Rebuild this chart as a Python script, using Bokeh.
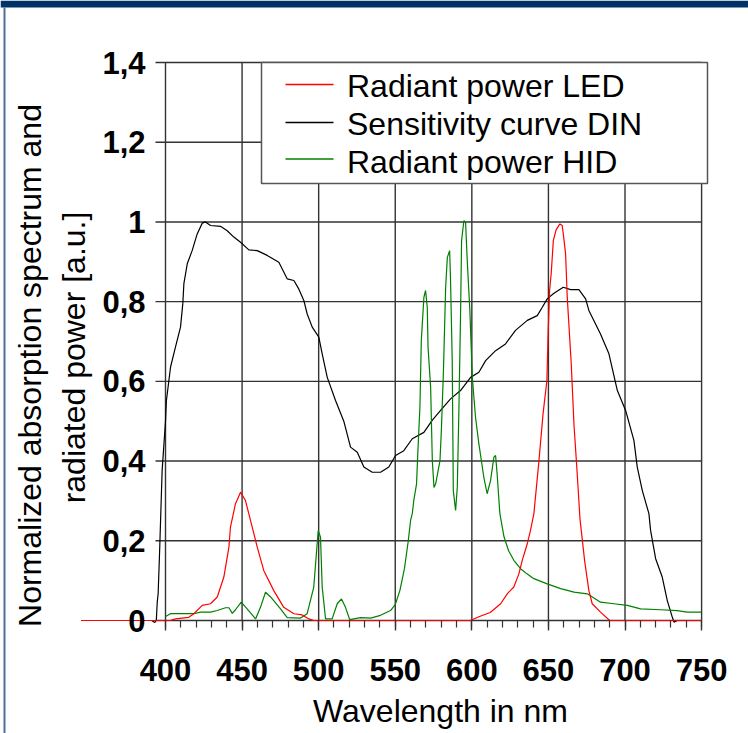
import math
from bokeh.plotting import figure
from bokeh.models import (Range1d, SingleIntervalTicker, FixedTicker, Legend, LegendItem,
                          ColumnDataSource)
from bokeh.core.properties import value
from bokeh.embed import file_html
from bokeh.resources import INLINE

# ---------------- data ----------------
din_nm = [345, 391, 393, 394, 394.6, 395.2, 396.1, 397.8, 400, 400.6, 403.3, 406.5, 409.8,
          411.3, 412, 414.2, 417.4, 420.7, 424, 426.1, 429.4, 435.9, 440.3, 444.6, 449,
          454.4, 459.9, 466.4, 474, 479.5, 483.8, 487, 490.3, 492.5, 495.8, 500.1, 502.3,
          505.6, 511, 516.4, 520.8, 525.2, 529.5, 535, 540.4, 545.8, 550.2, 555.6, 561.1,
          568.7, 574.1, 579.6, 586.1, 592.6, 599.2, 604.6, 609, 615.5, 622, 628.5, 636.2,
          642.7, 646, 649.2, 653.6, 659.7, 664.5, 669.9, 674.3, 676.4, 684, 689.5, 695,
          700.4, 705.8, 708, 711.3, 715.6, 716.7, 720, 724.3, 727.6, 730.9, 732, 734, 750]
din_val = [0, 0, -0.005, 0.0, 0.046, 0.067, 0.167, 0.376, 0.50, 0.552, 0.636, 0.686, 0.736,
           0.795, 0.845, 0.895, 0.928, 0.970, 0.997, 1.0, 0.991, 0.989, 0.978, 0.962, 0.949,
           0.930, 0.928, 0.916, 0.899, 0.857, 0.853, 0.832, 0.803, 0.769, 0.736, 0.711, 0.669,
           0.610, 0.552, 0.500, 0.435, 0.422, 0.385, 0.372, 0.372, 0.385, 0.414, 0.426, 0.456,
           0.472, 0.502, 0.527, 0.556, 0.577, 0.610, 0.623, 0.652, 0.677, 0.694, 0.728, 0.753,
           0.765, 0.786, 0.807, 0.821, 0.836, 0.830, 0.830, 0.807, 0.778, 0.719, 0.669, 0.577,
           0.527, 0.452, 0.385, 0.326, 0.268, 0.226, 0.155, 0.109, 0.050, 0.008, -0.004, 0, 0]

led_nm = [345, 403, 406.5, 415.2, 418.5, 424, 429.4, 433.8, 438.1, 441.4, 442.4, 445.7, 449,
          452.2, 455.5, 459.9, 464.2, 470.7, 477.2, 483.8, 489.3, 493.6, 496.8, 599, 605, 612,
          618.8, 623.1, 627.4, 630.7, 632.9, 636, 638.3, 640.5, 643.8, 646.5, 649, 649.8,
          650.8, 651.8, 653.2, 655, 657.5, 659, 659.7, 661.2, 662.3, 664.9, 666.7, 668.6,
          670.6, 673.6, 676.4, 678.6, 684, 689.5, 690, 750]
led_val = [0, 0, 0.004, 0.008, 0.017, 0.038, 0.042, 0.059, 0.109, 0.184, 0.234, 0.293, 0.322,
           0.301, 0.251, 0.184, 0.125, 0.075, 0.033, 0.017, 0.014, 0.004, 0, 0, 0.010, 0.020,
           0.042, 0.067, 0.084, 0.117, 0.151, 0.190, 0.226, 0.268, 0.400, 0.519, 0.602, 0.719,
           0.830, 0.870, 0.953, 0.980, 0.995, 0.991, 0.970, 0.920, 0.810, 0.644, 0.490, 0.380,
           0.255, 0.151, 0.075, 0.042, 0.021, 0.002, 0, 0]

hid_nm = [400, 403.3, 418.5, 422.9, 429.4, 433.8, 439.2, 441.4, 443.6, 445.7, 449.4, 453.3,
          458.8, 462, 465.3, 468.6, 475.1, 479.5, 488.2, 492.5, 496.8, 499.7, 501.2, 502.3,
          504.5, 508.8, 512.1, 514.9, 517.5, 520.3, 527.3, 533.9, 540.4, 546.9, 550, 553, 556,
          558.5, 560, 561.1, 562.1, 563.9, 564.7, 566.1, 567, 568.7, 569.8, 570.9, 571.4,
          573.1, 574.2, 575.3, 576.4, 579.2, 580.1, 581.4, 582.9, 584, 585.5, 586.1, 587.2,
          587.9, 589.4, 590.5, 591.5, 592.6, 593.3, 594.8, 595.9, 597, 598.7, 600.3, 602.4,
          604.6, 607.8, 610, 612.2, 614.4, 615.5, 616.5, 618.3, 621, 624, 627.4, 631.8, 636,
          640.5, 649.2, 658, 666.7, 675.4, 684, 692.7, 701.5, 710.2, 723.2, 734.1, 740.6, 749.7]
hid_val = [0.010, 0.017, 0.017, 0.021, 0.021, 0.025, 0.032, 0.032, 0.018, 0.027, 0.046, 0.029,
           0.004, 0.033, 0.071, 0.059, 0.029, 0.007, 0.006, 0.017, 0.084, 0.226, 0.209, 0.084,
           0.004, 0.004, 0.042, 0.054, 0.033, 0.002, 0.007, 0.006, 0.013, 0.025, 0.040, 0.075,
           0.130, 0.200, 0.251, 0.268, 0.301, 0.343, 0.418, 0.535, 0.702, 0.811, 0.828, 0.786,
           0.686, 0.585, 0.401, 0.334, 0.343, 0.401, 0.477, 0.619, 0.836, 0.911, 0.928, 0.853,
           0.652, 0.326, 0.276, 0.334, 0.519, 0.761, 0.953, 1.003, 1.000, 0.903, 0.778, 0.610,
           0.510, 0.443, 0.360, 0.318, 0.351, 0.410, 0.414, 0.368, 0.268, 0.210, 0.175, 0.151,
           0.130, 0.117, 0.105, 0.092, 0.080, 0.071, 0.067, 0.046, 0.042, 0.038, 0.029, 0.027,
           0.025, 0.021, 0.021]

x_ticks = [400, 450, 500, 550, 600, 650, 700, 750]
y_ticks = [0, 0.2, 0.4, 0.6, 0.8, 1.0, 1.2, 1.4]
y_tick_labels = ["0", "0,2", "0,4", "0,6", "0,8", "1", "1,2", "1,4"]
series_labels = ["Radiant power LED", "Sensitivity curve DIN", "Radiant power HID"]
series_colors = ["#ff0000", "#000000", "#008000"]
x_title = "Wavelength in nm"
y_title_lines = ["Normalized absorption spectrum and", "radiated power [a.u.]"]

# ---------------- layout: the frame fills the whole canvas ----------------
W, H = 748, 733
AX_PX, AY_PX = 165, 620          # pixel position of (400 nm, 0)
SX = 628 / 410                   # px per nm
SY = 558 / 1.4                   # px per unit
X0 = x_ticks[0] - AX_PX / SX


def dx(px):
    return X0 + px / SX


def dy(py):
    return (AY_PX - py) / SY


FONT = "Liberation Sans"
GRID = "#333333"

p = figure(width=W, height=H, min_border=0, min_border_left=0, min_border_right=0,
           min_border_top=0, min_border_bottom=0,
           x_range=Range1d(dx(0), dx(W)), y_range=Range1d(dy(H), dy(0)),
           output_backend="svg", toolbar_location=None)
p.outline_line_color = None
p.background_fill_color = "white"
p.border_fill_color = "white"
p.grid.visible = False

# page decoration: top band and thin left border
p.quad(left=[dx(0)], right=[dx(W)], bottom=[dy(7)], top=[dy(0)], fill_color="#003366",
       line_color=None)
p.quad(left=[dx(3)], right=[dx(5)], bottom=[dy(H)], top=[dy(7)], fill_color="#4f6f9b",
       line_color=None)

# grid lines (the 0 line and the 400 line double as the axis lines)
xmin, xmax = x_ticks[0], x_ticks[-1]
tick_ext = 10 / SX
p.segment(x0=[xmin - tick_ext] * len(y_ticks), x1=[xmax] * len(y_ticks), y0=y_ticks, y1=y_ticks,
          line_color=GRID, line_width=1.4)
p.segment(x0=x_ticks, x1=x_ticks, y0=[y_ticks[0]] * len(x_ticks), y1=[y_ticks[-1]] * len(x_ticks),
          line_color=GRID, line_width=1.4)

# legend box and legend sample lines
p.quad(left=[dx(261)], right=[dx(707)], bottom=[dy(183)], top=[y_ticks[-1]], fill_color="white",
       line_color="#555555", line_width=1.5)
leg_rows = [dy(84), dy(122), dy(158.5)]
p.segment(x0=[dx(285)] * 3, x1=[dx(333)] * 3, y0=leg_rows, y1=leg_rows,
          line_color=series_colors, line_width=1.3)

r_din = p.line(din_nm, din_val, line_color=series_colors[1], line_width=1.2)
r_hid = p.line(hid_nm, hid_val, line_color=series_colors[2], line_width=1.2)
r_led = p.line(led_nm, led_val, line_color=series_colors[0], line_width=1.2)

# x axis crossing at y = 0 (ticks and labels only)
ax = p.xaxis[0]
ax.fixed_location = 0
ax.ticker = SingleIntervalTicker(interval=50, num_minor_ticks=5)
ax.bounds = (xmin, xmax)
ax.major_label_text_font = FONT
ax.major_label_text_font_size = "31px"
ax.major_label_text_font_style = "bold"
ax.major_label_text_color = "black"
ax.major_label_standoff = 28
ax.major_tick_out = 10
ax.major_tick_in = 0
ax.minor_tick_out = 7
ax.minor_tick_in = 0
ax.axis_line_color = None
ax.major_tick_line_color = GRID
ax.major_tick_line_width = 1.4
ax.minor_tick_line_color = GRID
ax.minor_tick_line_width = 1.2

# y axis crossing at 400 nm (labels only; ticks are the extended grid lines)
ay = p.yaxis[0]
ay.fixed_location = xmin
ay.ticker = FixedTicker(ticks=y_ticks)
ay.bounds = (y_ticks[0], y_ticks[-1])
ay.major_label_overrides = dict(zip(y_ticks, y_tick_labels))
ay.major_label_text_font = FONT
ay.major_label_text_font_size = "31px"
ay.major_label_text_font_style = "bold"
ay.major_label_text_color = "black"
ay.major_label_standoff = 10
ay.major_tick_out = 10
ay.major_tick_in = 0
ay.minor_tick_line_color = None
ay.axis_line_color = None
ay.major_tick_line_color = None

# axis titles
p.text(x=[dx(440)], y=[dy(710)], text=[x_title], text_font=value(FONT),
       text_font_size=value("32px"), text_align=value("center"),
       text_baseline=value("alphabetic"), text_color=value("black"))
ysrc = ColumnDataSource(dict(x=[dx(29), dx(73)], y=[dy(365), dy(357)], t=y_title_lines))
p.text(x="x", y="y", text="t", source=ysrc, angle=math.pi / 2, text_font=value(FONT),
       text_font_size=value("32px"), text_align=value("center"),
       text_baseline=value("alphabetic"), text_color=value("black"))

# legend labels (sample lines are drawn above as segments)
legend = Legend(items=[LegendItem(label=series_labels[0], renderers=[r_led]),
                       LegendItem(label=series_labels[1], renderers=[r_din]),
                       LegendItem(label=series_labels[2], renderers=[r_hid])],
                location=(285, H - 181), padding=0, margin=0, spacing=1,
                glyph_width=0, glyph_height=36, label_height=36, label_standoff=62,
                label_text_font=FONT, label_text_font_size="32px", label_text_color="#000000",
                background_fill_alpha=0, border_line_color=None)
p.add_layout(legend)

open("out.html", "w").write(file_html(p, INLINE))
